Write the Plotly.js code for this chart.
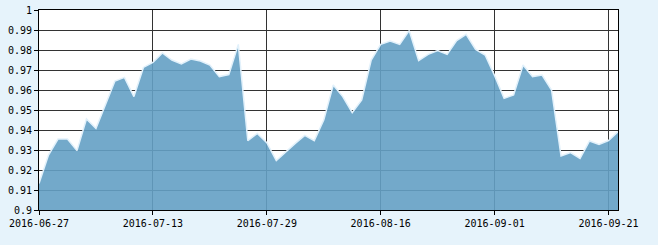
<!DOCTYPE html>
<html>
<head>
<meta charset="utf-8">
<script src="https://cdn.plot.ly/plotly-3.0.1.min.js"></script>
<style>
html,body{margin:0;padding:0;background:#e6f3fb;}
#chart{width:658px;height:245px;}
</style>
</head>
<body>
<div id="chart"></div>
<script>
const dates = [
  "2016-06-27","2016-06-28","2016-06-29","2016-06-30","2016-07-01",
  "2016-07-04","2016-07-05","2016-07-06","2016-07-07","2016-07-08",
  "2016-07-11","2016-07-12","2016-07-13","2016-07-14","2016-07-15",
  "2016-07-18","2016-07-19","2016-07-20","2016-07-21","2016-07-22",
  "2016-07-25","2016-07-26","2016-07-27","2016-07-28","2016-07-29",
  "2016-08-01","2016-08-02","2016-08-03","2016-08-04","2016-08-05",
  "2016-08-08","2016-08-09","2016-08-10","2016-08-11","2016-08-12",
  "2016-08-15","2016-08-16","2016-08-17","2016-08-18","2016-08-19",
  "2016-08-22","2016-08-23","2016-08-24","2016-08-25","2016-08-26",
  "2016-08-29","2016-08-30","2016-08-31","2016-09-01","2016-09-02",
  "2016-09-05","2016-09-06","2016-09-07","2016-09-08","2016-09-09",
  "2016-09-12","2016-09-13","2016-09-14","2016-09-19","2016-09-20",
  "2016-09-21","2016-09-22"
];
const values = [
  0.9133,0.9275,0.9355,0.9355,0.9297,
  0.9455,0.9408,0.9525,0.9645,0.9663,
  0.9567,0.9713,0.9738,0.9785,0.9750,
  0.9730,0.9755,0.9745,0.9725,0.9667,
  0.9677,0.9828,0.9347,0.9383,0.9337,
  0.9247,0.9292,0.9333,0.9373,0.9347,
  0.9450,0.9625,0.9567,0.9487,0.9550,
  0.9750,0.9828,0.9845,0.9828,0.9897,
  0.9747,0.9778,0.9797,0.9778,0.9847,
  0.9878,0.9803,0.9775,0.9672,0.9558,
  0.9575,0.9725,0.9667,0.9675,0.9600,
  0.9270,0.9287,0.9258,0.9345,0.9328,
  0.9347,0.9392
];
const xTickLabels = ["2016-06-27","2016-07-13","2016-07-29","2016-08-16","2016-09-01","2016-09-21"];
const yTickVals = [0.9,0.91,0.92,0.93,0.94,0.95,0.96,0.97,0.98,0.99,1];
const yTickText = ["0.9","0.91","0.92","0.93","0.94","0.95","0.96","0.97","0.98","0.99","1"];

const font = {family: "DejaVu Sans Mono, monospace", size: 10, color: "#000"};

const trace = {
  x: dates, y: values, type: "scatter", mode: "lines",
  fill: "tozeroy",
  fillcolor: "rgba(100,160,196,0.9)",
  line: {color: "#e2f1fb", width: 1.5},
  hoverinfo: "skip"
};

const layout = {
  width: 658, height: 245,
  margin: {l: 38.5, r: 40, t: 10, b: 35},
  paper_bgcolor: "#e6f3fb",
  plot_bgcolor: "#ffffff",
  showlegend: false,
  font: font,
  xaxis: {
    type: "category",
    range: [0, dates.length - 1],
    tickmode: "array",
    tickvals: xTickLabels,
    ticktext: xTickLabels,
    showgrid: true, gridcolor: "#333333", gridwidth: 1,
    showline: true, linecolor: "#000", linewidth: 1, mirror: true,
    ticks: "outside", ticklen: 4, tickcolor: "#000",
    tickfont: font, zeroline: false, fixedrange: true
  },
  yaxis: {
    range: [0.9, 1],
    tickmode: "array",
    tickvals: yTickVals,
    ticktext: yTickText,
    showgrid: true, gridcolor: "#333333", gridwidth: 1,
    showline: true, linecolor: "#000", linewidth: 1, mirror: true,
    ticks: "outside", ticklen: 4, tickcolor: "#000",
    tickfont: font, zeroline: false, fixedrange: true
  }
};

Plotly.newPlot("chart", [trace], layout, {staticPlot: true, displayModeBar: false});
</script>
</body>
</html>
